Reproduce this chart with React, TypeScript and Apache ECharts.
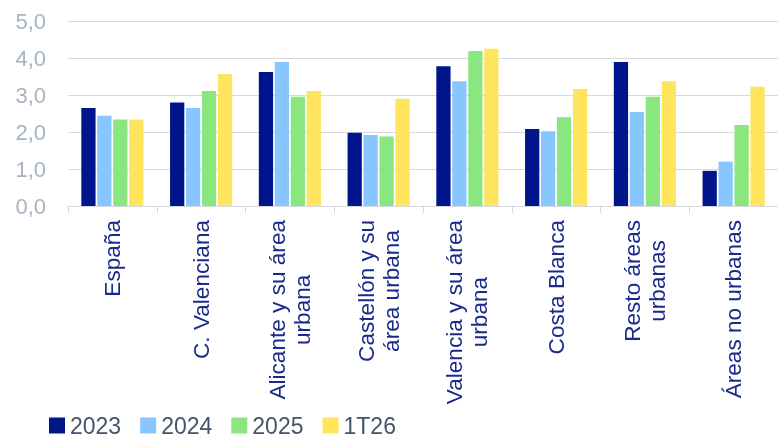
import React, { useEffect, useRef } from "react";
import * as echarts from "echarts";

const categories = [
  "España",
  "C. Valenciana",
  "Alicante y su área\nurbana",
  "Castellón y su\nárea urbana",
  "Valencia y su área\nurbana",
  "Costa Blanca",
  "Resto áreas\nurbanas",
  "Áreas no urbanas",
];
const seriesNames = ["2023", "2024", "2025", "1T26"];
const values2023 = [2.65, 2.8, 3.62, 1.98, 3.78, 2.08, 3.89, 0.95];
const values2024 = [2.44, 2.65, 3.89, 1.92, 3.37, 2.02, 2.54, 1.2];
const values2025 = [2.34, 3.11, 2.95, 1.88, 4.19, 2.4, 2.95, 2.19];
const values1T26 = [2.34, 3.57, 3.11, 2.9, 4.25, 3.16, 3.37, 3.22];
const yTicks = [0, 1, 2, 3, 4, 5];

const colors = ["#00148C", "#88C6FF", "#8AE67E", "#FFE45E"];
const FONT = "'Liberation Sans', Arial, sans-serif";

export default function App() {
  const ref = useRef<HTMLDivElement>(null);
  useEffect(() => {
    if (!ref.current) return;
    const chart = echarts.init(ref.current, undefined, { renderer: "svg" });
    const data = [values2023, values2024, values2025, values1T26];
    chart.setOption({
      animation: false,
      textStyle: { fontFamily: FONT },
      grid: { left: 68, top: 21, height: 185, width: 720, containLabel: false },
      legend: {
        data: seriesNames,
        left: 49,
        top: 414,
        padding: 0,
        itemWidth: 16,
        itemHeight: 16,
        itemGap: 19,
        icon: "rect",
        textStyle: { fontSize: 23, color: "#44546A", fontFamily: FONT, lineHeight: 23 },
      },
      xAxis: {
        type: "category",
        data: categories,
        axisLine: { lineStyle: { color: "#D5D9E0", width: 1 } },
        axisTick: { show: true, length: 7, lineStyle: { color: "#D5D9E0" } },
        axisLabel: {
          rotate: 90,
          margin: 14,
          interval: 0,
          formatter: (v: string) =>
            v
              .split("\n")
              .map((l) => `{c|${l}}`)
              .join("\n"),
          rich: {
            c: {
              align: "center",
              fontSize: 22.6,
              lineHeight: 25,
              color: "#1A2A8C",
              fontFamily: FONT,
            },
          },
        },
      },
      yAxis: {
        type: "value",
        min: yTicks[0],
        max: yTicks[yTicks.length - 1],
        interval: 1,
        axisLine: { show: false },
        axisTick: { show: false },
        splitLine: { lineStyle: { color: "#D5D9E0", width: 1 } },
        axisLabel: {
          margin: 22,
          fontSize: 22,
          color: "#A8B3C1",
          fontFamily: FONT,
          formatter: (v: number) => v.toFixed(1).replace(".", ","),
        },
      },
      series: seriesNames.map((name, i) => ({
        name,
        type: "bar",
        data: data[i],
        barGap: "12%",
        barCategoryGap: "30%",
        itemStyle: { color: colors[i] },
      })),
    });
    return () => chart.dispose();
  }, []);
  return (
    <div
      ref={ref}
      style={{ position: "fixed", left: 0, top: 0, width: 778, height: 437 }}
    />
  );
}
